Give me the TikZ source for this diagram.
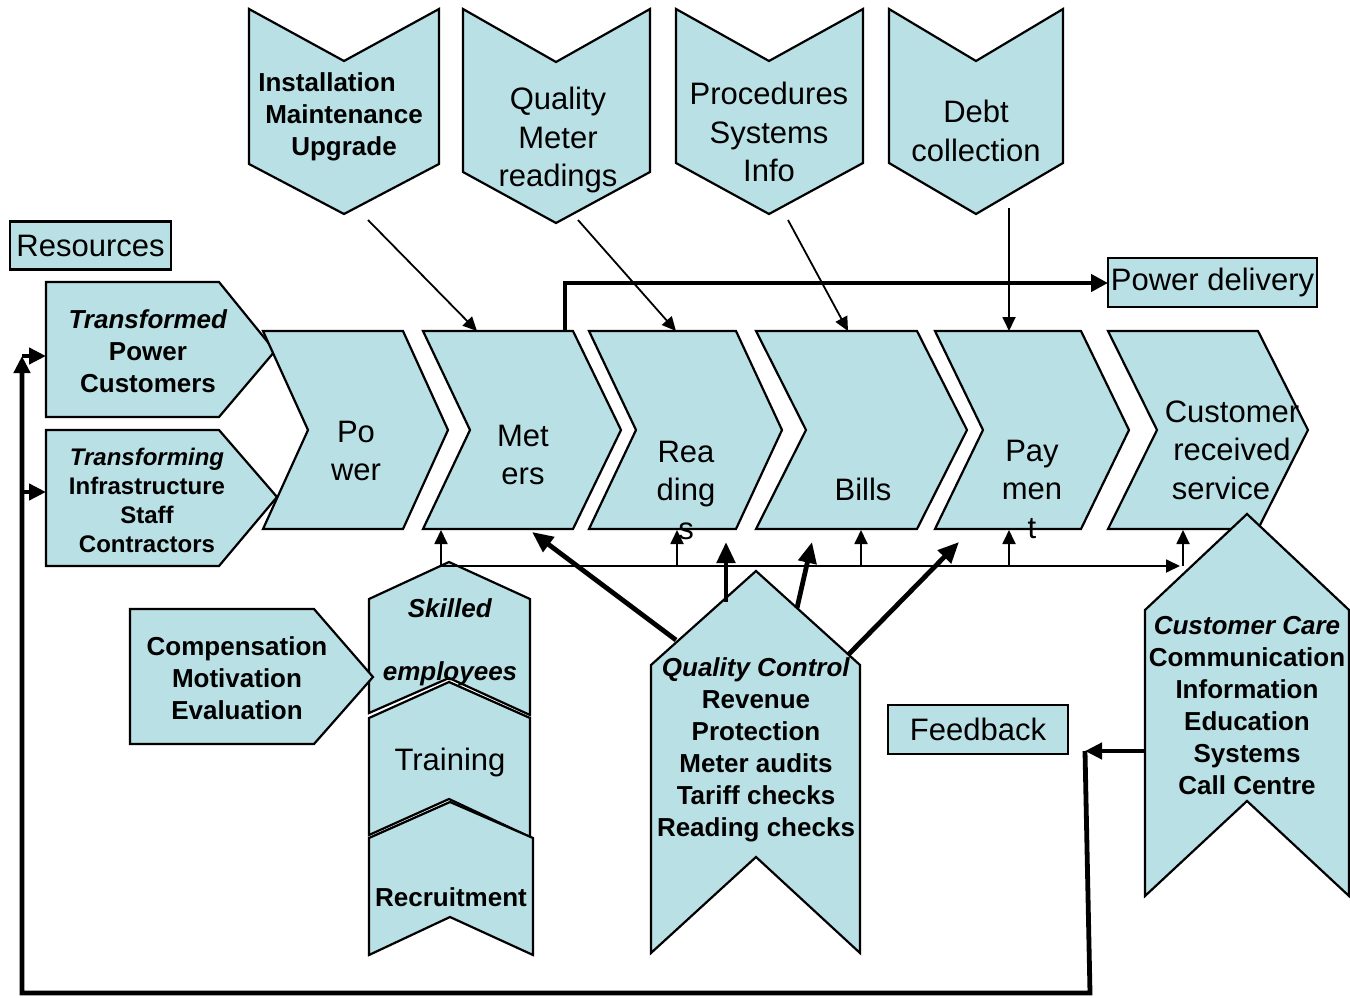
\documentclass[tikz,border=0pt]{standalone}
\usepackage{fontspec}
\setmainfont{Liberation Sans}
\usetikzlibrary{arrows.meta}
\definecolor{panelfill}{RGB}{185,224,228}
\begin{document}
\begin{tikzpicture}[x=1pt,y=-1pt,
  panel/.style={draw=black,fill=panelfill,line width=2.2pt,line join=miter},
  thinarrow/.style={draw=black,line width=1.8pt,-{Triangle[length=14pt,width=13pt]}},
  heavyline/.style={draw=black,line width=4.8pt},
  heavyarrow/.style={heavyline,-{Triangle[length=21pt,width=18pt]}},
  stubarrow/.style={heavyline,-{Triangle[length=17pt,width=16pt]}},
  txtbig/.style={font=\fontsize{31}{38.5}\selectfont,align=center,inner sep=0pt},
  txtbold/.style={font=\fontsize{26}{32}\selectfont\bfseries,align=center,inner sep=0pt},
  txtsmall/.style={font=\fontsize{24}{29}\selectfont\bfseries,align=center,inner sep=0pt},
]
\useasboundingbox (0,0) rectangle (1350,998);

% ---------- resource inputs (left) ----------
\draw[panel] (46,282) -- (219,282) -- (275,351) -- (219,417) -- (46,417) -- cycle;
\draw[panel] (46,430) -- (219,430) -- (277,497) -- (219,566) -- (46,566) -- cycle;
\coordinate (tfdIn) at (46,356);
\coordinate (tfgIn) at (46,492);

% ---------- value chain ----------
\draw[panel] (263,331) -- (403,331) -- (448,430) -- (403,529) -- (263,529) -- (308,430) -- cycle;
\draw[panel] (423,331) -- (573,331) -- (621,430) -- (573,529) -- (423,529) -- (470,430) -- cycle;
\draw[panel] (589,331) -- (736,331) -- (782,430) -- (736,529) -- (589,529) -- (636,430) -- cycle;
\draw[panel] (756,331) -- (917,331) -- (967,430) -- (917,529) -- (756,529) -- (806,430) -- cycle;
\draw[panel] (935,331) -- (1081,331) -- (1129,430) -- (1081,529) -- (935,529) -- (983,430) -- cycle;
\draw[panel] (1108,331) -- (1258,331) -- (1308,430) -- (1258,529) -- (1108,529) -- (1157,430) -- cycle;

% ---------- supporting inputs (top) ----------
\draw[panel] (249,9) -- (344,61) -- (439,9) -- (439,164) -- (344,214) -- (249,164) -- cycle;
\draw[panel] (463,9) -- (556,62) -- (650,9) -- (650,172) -- (556,223) -- (463,172) -- cycle;
\draw[panel] (676,9) -- (769,61) -- (863,9) -- (863,163) -- (769,214) -- (676,163) -- cycle;
\draw[panel] (889,9) -- (976,61) -- (1063,9) -- (1063,163) -- (976,214) -- (889,163) -- cycle;

% ---------- people stack ----------
\draw[panel] (369,599) -- (449,562) -- (530,599) -- (530,715) -- (449,678) -- (369,713) -- cycle;
\draw[panel] (369,718) -- (449,682) -- (530,718) -- (530,837) -- (449,799) -- (369,835) -- cycle;
\draw[panel] (369,838) -- (450,802) -- (533,838) -- (533,955) -- (450,917) -- (369,955) -- cycle;
\draw[panel] (130,609) -- (314,609) -- (373,677) -- (314,744) -- (130,744) -- cycle;

% ---------- quality control and customer care ----------
\draw[panel] (651,665) -- (756,571) -- (860,665) -- (860,953) -- (756,857) -- (651,953) -- cycle;
\draw[panel] (1145,610) -- (1247,514) -- (1349,610) -- (1349,896) -- (1247,801) -- (1145,896) -- cycle;

% ---------- labelled boxes ----------
\node[panel,txtbig,minimum width=161pt,minimum height=48pt] (resources) at (90.5,245.5) {Resources};
\node[panel,txtbig,minimum width=209pt,minimum height=49pt] (delivery) at (1212.5,282.5) {Power delivery};
\node[panel,txtbig,minimum width=180pt,minimum height=49pt] (feedback) at (978,729.5) {Feedback};

% ---------- texts ----------
\node[txtbold] (instText) at (344,117) {Installation\kern34pt\\Maintenance\\Upgrade};
\node[txtbig] (qmText) at (558,140) {Quality\\Meter\\readings};
\node[txtbig] (procText) at (769,132) {Procedures\\Systems\\Info};
\node[txtbig] (debtText) at (976,131) {Debt\\collection};

\node[txtbold] (tfdText) at (148,351) {\textit{Transformed}\\Power\\Customers};
\node[txtsmall] (tfgText) at (147,500) {\textit{Transforming}\\Infrastructure\\Staff\\Contractors};

\node[txtbig] (powerText) at (356,451) {Po\\wer};
\node[txtbig] (metersText) at (523,455) {Met\\ers};
\node[txtbig] (readText) at (686,490) {Rea\\ding\\s};
\node[txtbig] (billsText) at (863,489) {Bills};
\node[txtbig] (payText) at (1032,489) {Pay\\men\\t};
\node[txtbig] (custText) at (1232,450) {Customer\\received\\service\kern22pt};

\node[txtbold] (compText) at (237,678) {Compensation\\Motivation\\Evaluation};
\node[txtbold] (skillText) at (450,642) {\textit{Skilled}\\[31pt]\textit{employees}};
\node[txtbig] (trainText) at (450,762) {Training};
\node[txtbold] (recText) at (451,897) {Recruitment};

\node[txtbold] (qcText) at (756,750) {\textit{Quality Control}\\Revenue\\Protection\\Meter audits\\Tariff checks\\Reading checks};
\node[txtbold] (ccText) at (1247,706) {\textit{Customer Care}\\Communication\\Information\\Education\\Systems\\Call Centre};

% ---------- connector end points ----------
\coordinate (instOut) at (368,220);   \coordinate (metersTop) at (477,331);
\coordinate (qmOut) at (578,220);     \coordinate (readTop) at (676,331);
\coordinate (procOut) at (788,220);   \coordinate (billsTop) at (848,331);
\coordinate (debtOut) at (1009,208);  \coordinate (payTop) at (1009,331);

\coordinate (meterRise) at (565,331); \coordinate (meterBend) at (565,283);
\coordinate (deliveryIn) at (1108,283);

\coordinate (busStart) at (441,566);  \coordinate (busEnd) at (1180,566);
\coordinate (busA) at (441,566);      \coordinate (metersBot) at (441,530);
\coordinate (busB) at (677,566);      \coordinate (readBot) at (677,530);
\coordinate (busC) at (861,566);      \coordinate (billsBot) at (861,530);
\coordinate (busD) at (1009,566);     \coordinate (payBot) at (1009,530);
\coordinate (busE) at (1183,566);     \coordinate (custBot) at (1183,530);

\coordinate (qcA) at (676,640);       \coordinate (qcAend) at (532,532);
\coordinate (qcB) at (726,602);       \coordinate (qcBend) at (726,542);
\coordinate (qcC) at (797,608);       \coordinate (qcCend) at (812,542);
\coordinate (qcD) at (848,655);       \coordinate (qcDend) at (959,542);

\coordinate (ccOut) at (1145,751);    \coordinate (fbTurn) at (1085,751);
\coordinate (fbLowRight) at (1090,993); \coordinate (fbLowLeft) at (22,993);
\coordinate (fbTop) at (22,356);      \coordinate (fbMid) at (22,492);

% ---------- connectors ----------
\draw[thinarrow] (instOut) -- (metersTop);
\draw[thinarrow] (qmOut) -- (readTop);
\draw[thinarrow] (procOut) -- (billsTop);
\draw[thinarrow] (debtOut) -- (payTop);

\draw[heavyline,-{Triangle[length=17pt,width=17pt]}] (meterRise) -- (meterBend) -- (deliveryIn);

\draw[thinarrow] (busStart) -- (busEnd);
\draw[thinarrow] (busA) -- (metersBot);
\draw[thinarrow] (busB) -- (readBot);
\draw[thinarrow] (busC) -- (billsBot);
\draw[thinarrow] (busD) -- (payBot);
\draw[thinarrow] (busE) -- (custBot);

\draw[heavyarrow] (qcA) -- (qcAend);
\draw[heavyarrow] (qcB) -- (qcBend);
\draw[heavyarrow] (qcC) -- (qcCend);
\draw[heavyarrow] (qcD) -- (qcDend);

\draw[stubarrow] (ccOut) -- (fbTurn);
\draw[stubarrow] (fbTurn) -- (fbLowRight) -- (fbLowLeft) -- (fbTop);
\draw[stubarrow] (fbTop) -- (tfdIn);
\draw[stubarrow] (fbMid) -- (tfgIn);
\end{tikzpicture}
\end{document}
